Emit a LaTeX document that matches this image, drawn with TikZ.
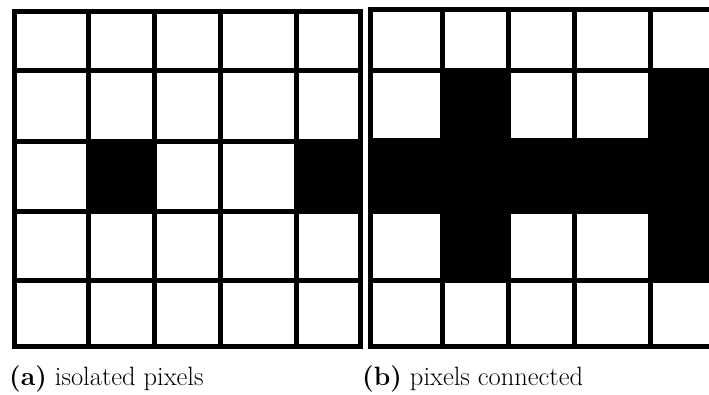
\documentclass[tikz,border=0pt]{standalone}
\begin{document}
\begin{tikzpicture}[x=1pt,y=-1pt,
  gridline/.style={line width=5pt,black,line cap=rect},
  onpixel/.style={fill=black},
  caption/.style={anchor=base west,inner sep=0pt,font=\fontsize{26.5}{31}\selectfont}]
\useasboundingbox (0,0) rectangle (709,394);

% ---- (a) isolated pixels ----
% black pixels
\fill[onpixel] (88,141) rectangle (154,211);
\fill[onpixel] (296,141) rectangle (360,211);
% grid
\foreach \gx in {14,88,154,220,296,360}
  \draw[gridline] (\gx,11) -- (\gx,346);
\foreach \gy in {11,70,141,211,280,346}
  \draw[gridline] (14,\gy) -- (360,\gy);

% ---- (b) pixels connected ----
\fill[onpixel] (442,70) rectangle (508,140);
\fill[onpixel] (650,70) rectangle (709,140);
\fill[onpixel] (370,140) rectangle (709,211);
\fill[onpixel] (442,211) rectangle (508,280);
\fill[onpixel] (650,211) rectangle (709,280);
\foreach \gx in {370,442,508,574,650}
  \draw[gridline] (\gx,9) -- (\gx,346);
\foreach \gy in {9,70,140,211,280,346}
  \draw[gridline] (370,\gy) -- (709,\gy);

% captions
\node[caption] (capa) at (9,385) {\textbf{(a)} isolated pixels};
\node[caption] (capb) at (362,385) {\textbf{(b)} pixels connected};
\end{tikzpicture}
\end{document}
